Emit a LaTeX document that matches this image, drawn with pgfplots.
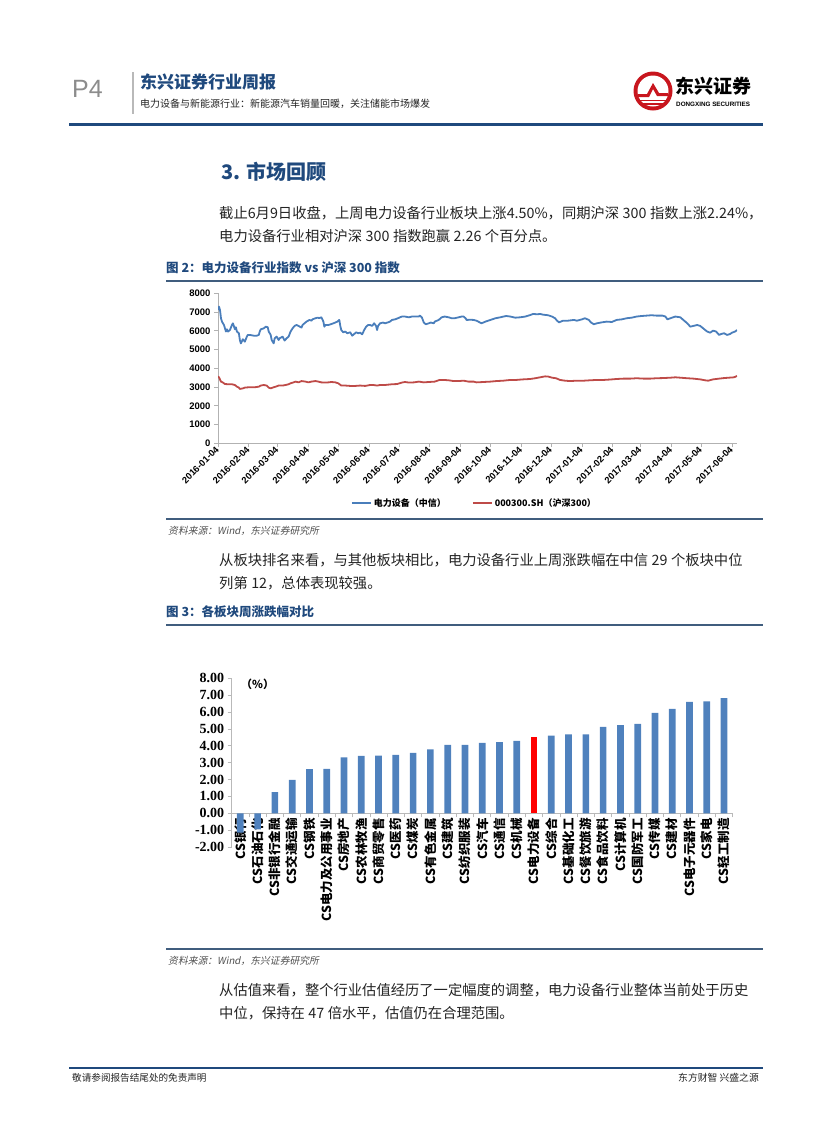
\documentclass[border=0pt]{standalone}
\usepackage{fontspec}
\usepackage{pgfplots}
\pgfplotsset{compat=1.18}
\setmainfont{Noto Sans CJK SC}
\newfontfamily\cjkit[FakeSlant=0.2]{Noto Sans CJK SC}
\newfontfamily\arial{Liberation Sans}
\newfontfamily\tnr{Liberation Serif}
\XeTeXlinebreaklocale "zh"
\XeTeXlinebreakskip=0pt plus 3pt

\definecolor{hdrblue}{RGB}{31,73,125}
\definecolor{rulecol}{RGB}{64,93,126}
\definecolor{lineblue}{RGB}{74,126,187}
\definecolor{linered}{RGB}{190,75,72}
\definecolor{barblue}{RGB}{79,129,189}
\definecolor{logored}{RGB}{200,22,30}
\definecolor{txt}{RGB}{35,35,35}
\definecolor{srcgray}{RGB}{80,80,80}

\newcommand\jline[1]{\makebox[538pt][s]{#1}}
\newcommand\body{\fontsize{14.3}{16}\selectfont}
\newcommand\gap{\kern3.5pt}

\begin{document}
\begin{tikzpicture}
\path[use as bounding box] (0,0) rectangle (827pt,-1122pt);
\begin{scope}[x=1pt,y=-1pt,every node/.style={inner sep=0pt,anchor=west}]
  % header
  \node[text={rgb,255:red,140;green,140;blue,140}] at (72,89) {\arial\fontsize{25}{25}\selectfont P4};
  \draw[gray!55,line width=1.5pt] (133,72) -- (133,114);
  \node[text=hdrblue] at (140,82) {\bfseries\fontsize{17}{17}\selectfont 东兴证券行业周报};
  \node[text=txt] at (140,103.5) {\fontsize{10}{10}\selectfont 电力设备与新能源行业：新能源汽车销量回暖，关注储能市场爆发};
  % logo
  \fill[logored] (653,91) circle (19.5);
  \fill[white] (653,91) circle (15.5);
  \fill[logored] (638,94) -- (647,94) -- (653,83) -- (659,93) -- (668,93) -- (668,96)
        -- (657,96) -- (653,89) -- (649,97) -- (638,97) -- cycle;
  \draw[logored,line width=1.4pt] (639,100.5) -- (667,100.5);
  \draw[logored,line width=1.2pt] (642,104) -- (664,104);
  \node at (675,86) {\bfseries\fontsize{19}{19}\selectfont 东兴证券};
  \node at (676,104) {\arial\bfseries\fontsize{6.3}{6.3}\selectfont DONGXING SECURITIES};
  \draw[hdrblue,line width=3.5pt] (69,124.5) -- (763,124.5);

  % section
  \node[text=hdrblue] at (221,172) {\bfseries\fontsize{20}{20}\selectfont 3. 市场回顾};
  \node[text=txt] at (219,213.5) {\body\jline{截止6月9日收盘，上周电力设备行业板块上涨4.50\%，同期沪深\gap{}300\gap{}指数上涨2.24\%，}};
  \node[text=txt] at (219,236.5) {\body 电力设备行业相对沪深\gap{}300\gap{}指数跑赢\gap{}2.26\gap{}个百分点。};

  % figure 2 frame
  \node[text=hdrblue] at (166,268) {\bfseries\fontsize{12.5}{12.5}\selectfont 图 2：电力设备行业指数 vs 沪深 300 指数};
  \draw[rulecol,line width=2pt] (166,281) -- (763,281);
  \draw[rulecol,line width=2pt] (166,518.5) -- (763,518.5);
  \node[text=srcgray] at (168,531) {\cjkit\fontsize{9.8}{9.8}\selectfont 资料来源：Wind，东兴证券研究所};

  \node[text=txt] at (219,560.5) {\body\jline{从板块排名来看，与其他板块相比，电力设备行业上周涨跌幅在中信\gap{}29\gap{}个板块中位}};
  \node[text=txt] at (219,583.5) {\body 列第\gap{}12，总体表现较强。};

  % figure 3 frame
  \node[text=hdrblue] at (166,612) {\bfseries\fontsize{12.5}{12.5}\selectfont 图 3：各板块周涨跌幅对比};
  \draw[rulecol,line width=2pt] (166,624.5) -- (763,624.5);
  \node at (241,684) {\bfseries\fontsize{11}{11}\selectfont （\%）};
  \draw[rulecol,line width=2pt] (166,949) -- (763,949);
  \node[text=srcgray] at (168,961) {\cjkit\fontsize{9.8}{9.8}\selectfont 资料来源：Wind，东兴证券研究所};

  \node[text=txt] at (219,990) {\body\jline{从估值来看，整个行业估值经历了一定幅度的调整，电力设备行业整体当前处于历史}};
  \node[text=txt] at (219,1013) {\body 中位，保持在\gap{}47\gap{}倍水平，估值仍在合理范围。};

  % footer
  \draw[hdrblue,line width=1.2pt] (69,1068) -- (763,1068);
  \node[text=txt] at (72,1078) {\fontsize{9.6}{9.6}\selectfont 敬请参阅报告结尾处的免责声明};
  \node[text=txt,anchor=east] at (759,1078) {\fontsize{9.8}{9.8}\selectfont 东方财智 兴盛之源};
\end{scope}

% ---- figure 2: index lines
\begin{axis}[
  at={(218pt,-443.3pt)}, anchor=south west,
  scale only axis, width=519pt, height=150pt,
  xmin=0, xmax=522, ymin=0, ymax=8000,
  axis x line=bottom, axis y line=left,
  axis line style={-, draw=gray!60, line width=0.8pt},
  every tick/.style={draw=gray!60, line width=0.8pt},
  tick align=outside, major tick length=4pt,
  xtick={0,31,60,91,121,152,182,213,244,274,305,335,366,397,425,456,486,517},
  xticklabels={2016-01-04,2016-02-04,2016-03-04,2016-04-04,2016-05-04,2016-06-04,2016-07-04,2016-08-04,2016-09-04,2016-10-04,2016-11-04,2016-12-04,2017-01-04,2017-02-04,2017-03-04,2017-04-04,2017-05-04,2017-06-04},
  xticklabel style={rotate=45, anchor=east, inner sep=1pt, font=\arial\bfseries\fontsize{9.3}{9.3}\selectfont},
  ytick={0,1000,...,8000},
  yticklabel style={font=\arial\bfseries\fontsize{9.5}{9.5}\selectfont},
  /pgf/number format/1000 sep={},
  /pgf/number format/assume math mode=true,
  scaled y ticks=false,
  legend columns=2,
  legend style={draw=none, fill=none, at={(0.494,-0.4)}, anchor=center,
    font=\bfseries\fontsize{9}{9}\selectfont,
    /tikz/every even column/.append style={column sep=24pt}},
  legend image code/.code={\draw[#1, line width=2pt] (0pt,0pt) -- (19pt,0pt);},
]
\addplot[lineblue, line width=1.8pt, line join=round, mark=none] coordinates {
(0,7110)(1,7290)(2,7110)(3,6670)(4,6490)(6,6310)(8,5960)(9,6080)(10,5960)(12,6040)
(14,6310)(15,6400)(17,6080)(18,6190)(19,5960)(21,5870)(22,5510)(23,5330)(25,5550)(27,5420)
(29,5690)(30,5780)(32,5780)(36,5740)(39,5740)(41,5780)(42,5960)(43,6080)(46,6130)(48,6220)
(50,6190)(51,5960)(53,5780)(54,5510)(56,5330)(57,5600)(59,5690)(61,5510)(62,5600)(65,5690)
(67,5480)(69,5600)(71,5690)(73,5960)(75,6130)(77,6260)(79,6310)(81,6260)(84,6170)(85,6310)
(87,6400)(89,6490)(92,6580)(94,6540)(95,6610)(98,6670)(100,6700)(102,6680)(104,6720)(106,6490)
(107,6220)(108,6310)(111,6310)(114,6360)(116,6400)(118,6440)(120,6490)(122,6580)(123,6260)(124,6040)
(126,5920)(128,5960)(130,5870)(133,5920)(135,5740)(137,5830)(139,5920)(141,5870)(143,5900)(145,5810)
(147,6040)(149,6220)(151,6310)(153,6310)(155,6260)(157,6400)(159,6260)(160,6040)(161,6260)(163,6400)
(166,6440)(168,6400)(171,6450)(173,6490)(175,6580)(178,6610)(181,6670)(183,6720)(185,6760)(188,6760)
(192,6720)(195,6760)(198,6760)(202,6760)(203,6810)(205,6720)(207,6440)(209,6350)(212,6400)(214,6440)
(217,6400)(218,6490)(222,6580)(225,6720)(228,6760)(232,6720)(235,6670)(238,6670)(242,6720)(245,6760)
(247,6760)(249,6670)(250,6580)(254,6590)(257,6580)(260,6540)(265,6400)(269,6490)(274,6580)(279,6670)
(284,6720)(287,6760)(290,6790)(294,6760)(299,6700)(304,6720)(309,6760)(314,6840)(317,6900)(321,6880)
(324,6900)(327,6860)(332,6830)(336,6760)(339,6670)(341,6540)(343,6450)(347,6540)(352,6540)(358,6580)
(361,6540)(366,6610)(369,6670)(373,6580)(375,6450)(378,6350)(381,6400)(386,6450)(391,6490)(396,6470)
(401,6580)(406,6610)(411,6670)(416,6700)(421,6760)(426,6790)(431,6810)(436,6830)(441,6810)(447,6810)
(450,6760)(452,6610)(455,6670)(460,6760)(465,6720)(468,6580)(472,6400)(475,6220)(478,6260)(482,6310)
(485,6260)(488,6130)(492,5960)(495,5900)(498,6010)(501,5960)(504,5780)(506,5830)(509,5870)(512,5780)
(515,5830)(517,5900)(520,5960)(522,6040)
};
\addlegendentry{电力设备（中信）}
\addplot[linered, line width=1.8pt, line join=round, mark=none] coordinates {
(0,3560)(1,3520)(3,3290)(5,3240)(7,3160)(11,3150)(14,3150)(17,3110)(19,3020)(21,2970)
(22,2900)(25,2930)(27,2970)(31,2990)(34,2990)(37,2990)(41,3020)(43,3080)(46,3110)(49,3080)
(51,2970)(53,2930)(56,2990)(58,3020)(61,3080)(65,3080)(68,3110)(71,3150)(73,3200)(76,3250)
(78,3290)(81,3250)(84,3320)(88,3290)(91,3250)(94,3290)(98,3320)(101,3290)(104,3250)(108,3240)
(111,3250)(114,3270)(118,3250)(121,3200)(124,3080)(128,3080)(133,3060)(138,3060)(143,3080)(148,3060)
(153,3110)(156,3110)(160,3080)(163,3110)(168,3110)(175,3150)(180,3160)(185,3240)(188,3270)(192,3240)
(197,3250)(202,3290)(207,3250)(212,3270)(218,3290)(223,3380)(227,3380)(232,3360)(237,3320)(242,3320)
(247,3340)(252,3290)(257,3290)(260,3250)(267,3270)(274,3290)(280,3320)(287,3340)(294,3380)(300,3380)
(307,3410)(314,3430)(319,3470)(324,3520)(329,3570)(332,3560)(336,3500)(340,3470)(344,3380)(349,3340)
(354,3320)(361,3340)(368,3340)(374,3360)(381,3380)(388,3380)(394,3400)(401,3430)(408,3450)(415,3450)
(421,3470)(428,3450)(435,3450)(441,3470)(448,3480)(455,3500)(460,3520)(465,3500)(472,3470)(478,3450)
(485,3410)(490,3360)(493,3340)(498,3410)(504,3450)(509,3480)(514,3500)(519,3520)(522,3590)
};
\addlegendentry{000300.SH（沪深300）}
\end{axis}

% ---- figure 3: weekly change by sector
\begin{axis}[
  at={(231.7pt,-847pt)}, anchor=south west,
  scale only axis, width=501pt, height=168.7pt,
  xmin=-0.5, xmax=28.5, ymin=-2, ymax=8,
  axis x line=middle, axis y line=left,
  hide obscured x ticks=false, hide obscured y ticks=false,
  axis line style={-, draw=gray!55, line width=0.8pt},
  every tick/.style={draw=gray!55, line width=0.8pt},
  tick align=outside, major tick length=4pt, minor tick length=4pt,
  ybar, bar width=6.7pt, bar shift=0pt,
  xtick={0,1,...,28},
  xticklabels={CS银行,CS石油石化,CS非银行金融,CS交通运输,CS钢铁,CS电力及公用事业,CS房地产,CS农林牧渔,CS商贸零售,CS医药,CS煤炭,CS有色金属,CS建筑,CS纺织服装,CS汽车,CS通信,CS机械,CS电力设备,CS综合,CS基础化工,CS餐饮旅游,CS食品饮料,CS计算机,CS国防军工,CS传媒,CS建材,CS电子元器件,CS家电,CS轻工制造},
  major x tick style={draw=none},
  minor xtick={-0.5,0.5,...,28.5},
  minor x tick style={draw=gray!55, line width=0.8pt},
  xticklabel style={rotate=90, anchor=east, inner sep=1pt, font=\bfseries\fontsize{12.5}{12.5}\selectfont},
  ytick={-2,-1,...,8},
  yticklabel style={font=\tnr\bfseries\fontsize{14}{14}\selectfont,
    /pgf/number format/.cd, fixed, fixed zerofill, precision=2},
  /pgf/number format/assume math mode=true,
]
\addplot[fill=barblue, draw=none] coordinates {
(0,-1.15)(1,-0.95)(2,1.25)(3,1.98)(4,2.61)(5,2.63)(6,3.32)(7,3.40)(8,3.42)(9,3.46)
(10,3.58)(11,3.79)(12,4.05)(13,4.06)(14,4.17)(15,4.21)(16,4.29)
(18,4.60)(19,4.68)(20,4.68)(21,5.12)(22,5.22)(23,5.30)(24,5.95)(25,6.19)(26,6.60)(27,6.64)(28,6.82)
};
\addplot[fill=red, draw=none] coordinates {(17,4.50)};
\end{axis}
\end{tikzpicture}
\end{document}
